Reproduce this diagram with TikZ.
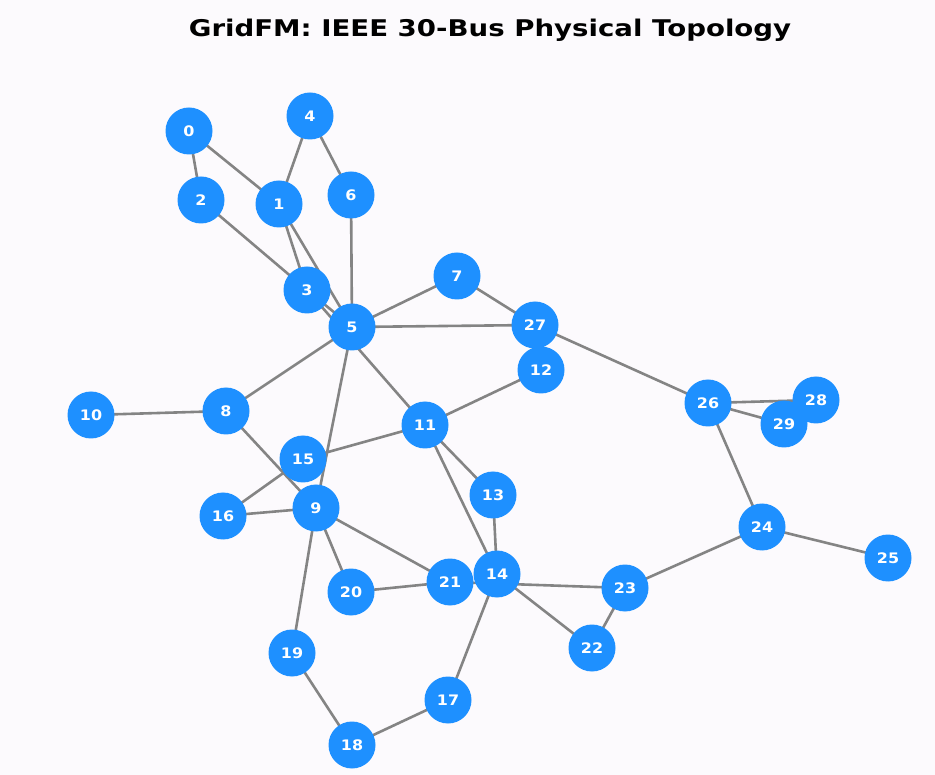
\documentclass[tikz,border=0pt]{standalone}
\usepackage{graphicx}
\usepackage{fontspec}
\setmainfont{DejaVu Sans}
\definecolor{bg}{RGB}{252,250,253}
\definecolor{busblue}{RGB}{30,144,255}
\definecolor{edgegray}{RGB}{132,132,132}
\newcommand{\wide}[2]{\scalebox{#1}[1]{#2}}
\tikzset{
  bus/.style={circle, fill=busblue, draw=none, minimum size=47pt, inner sep=0pt,
    text=white, font=\bfseries\fontsize{14.5}{15}\selectfont},
  line/.style={draw=edgegray, line width=2.6pt},
}
\begin{document}
\begin{tikzpicture}[x=1pt, y=-1pt]
\fill[bg] (0,0) rectangle (935,775);
\useasboundingbox (0,0) rectangle (935,775);
\node[font=\bfseries\fontsize{23}{25}\selectfont] (title) at (490,30) {\wide{1.2}{GridFM: IEEE 30-Bus Physical Topology}};
\coordinate (p0) at (189,131);
\coordinate (p1) at (279,204);
\coordinate (p2) at (201,200);
\coordinate (p3) at (307,290);
\coordinate (p4) at (310,116);
\coordinate (p5) at (352,327);
\coordinate (p6) at (351,195);
\coordinate (p7) at (457,276);
\coordinate (p8) at (226,411);
\coordinate (p9) at (316,508);
\coordinate (p10) at (91,415);
\coordinate (p11) at (425,425);
\coordinate (p12) at (541,370);
\coordinate (p13) at (493,495);
\coordinate (p14) at (497,574);
\coordinate (p15) at (303,459);
\coordinate (p16) at (223,516);
\coordinate (p17) at (448,700);
\coordinate (p18) at (352,745);
\coordinate (p19) at (292,653);
\coordinate (p20) at (351,592);
\coordinate (p21) at (450,582);
\coordinate (p22) at (592,648);
\coordinate (p23) at (625,588);
\coordinate (p24) at (762,527);
\coordinate (p25) at (888,558);
\coordinate (p26) at (708,403);
\coordinate (p27) at (535,325);
\coordinate (p28) at (816,400);
\coordinate (p29) at (784,424);
\foreach \a/\b in {0/1,0/2,1/3,2/3,1/4,1/5,3/5,4/6,5/6,5/7,5/8,5/9,8/10,8/9,3/11,11/12,11/13,11/14,11/15,13/14,15/16,14/17,17/18,18/19,9/19,9/16,9/20,9/21,20/21,14/22,21/23,22/23,23/24,24/25,24/26,27/26,26/28,26/29,28/29,7/27,5/27}
  \draw[line] (p\a) -- (p\b);
\foreach \i in {0,...,27}
  \node[bus] (n\i) at (p\i) {\wide{1.1}{\i}};
\node[bus] (n29) at (p29) {\wide{1.1}{29}};
\node[bus] (n28) at (p28) {\wide{1.1}{28}};
\end{tikzpicture}
\end{document}
